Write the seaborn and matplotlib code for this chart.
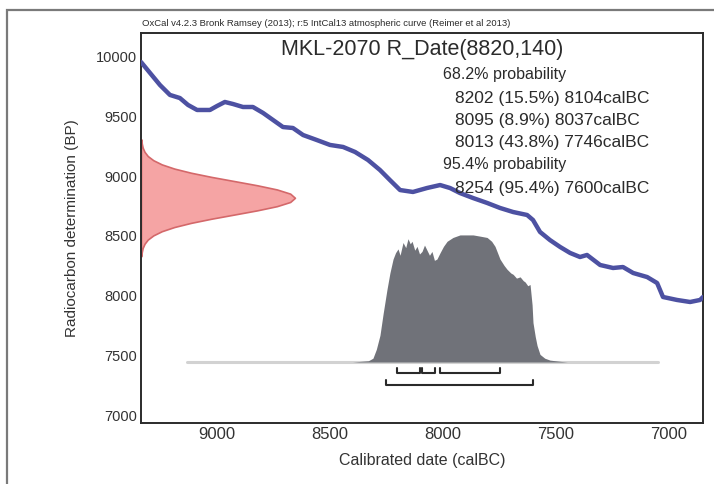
import numpy as np
import pandas as pd
import matplotlib
matplotlib.use("Agg")
import matplotlib.pyplot as plt
import seaborn as sns
from matplotlib.ticker import MultipleLocator
from matplotlib.patches import Rectangle

# ---------------------------
# data
# ---------------------------
# IntCal13 curve (cal BC vs BP)
curve_cal = [9336, 9296, 9252, 9208, 9164, 9128, 9088, 9031, 9000, 8965, 8929, 8885,
             8841, 8796, 8752, 8708, 8664, 8619, 8558, 8500, 8442, 8389, 8332, 8279,
             8235, 8190, 8133, 8071, 8013, 7969, 7925, 7867, 7805, 7748, 7690, 7628,
             7602, 7571, 7527, 7482, 7438, 7394, 7363, 7305, 7248, 7204, 7159, 7097,
             7053, 7027, 6965, 6907, 6863, 6850]
curve_bp = [9958, 9866, 9765, 9682, 9656, 9598, 9556, 9556, 9589, 9623, 9606, 9581,
            9581, 9531, 9472, 9413, 9405, 9346, 9304, 9263, 9246, 9204, 9137, 9053,
            8969, 8885, 8869, 8902, 8927, 8902, 8860, 8818, 8777, 8735, 8701, 8676,
            8634, 8534, 8466, 8408, 8358, 8324, 8341, 8257, 8232, 8240, 8190, 8156,
            8106, 7989, 7964, 7947, 7964, 7989]

# R_Date(8820,140) on the y axis (relative height)
rdate_bp = [8330, 8365, 8400, 8435, 8470, 8505, 8540, 8575, 8610, 8645, 8680, 8715,
            8750, 8785, 8820, 8855, 8890, 8925, 8960, 8995, 9030, 9065, 9100, 9135,
            9170, 9205, 9240, 9275, 9310]
rdate_h = [0.002, 0.005, 0.011, 0.023, 0.044, 0.080, 0.135, 0.216, 0.325, 0.458,
           0.607, 0.755, 0.883, 0.969, 1.0, 0.969, 0.883, 0.755, 0.607, 0.458,
           0.325, 0.216, 0.135, 0.080, 0.044, 0.023, 0.011, 0.005, 0.002]

# calibrated distribution (relative probability)
post_cal = [8400, 8330, 8310, 8295, 8279, 8265, 8248, 8235, 8221, 8210, 8199, 8190,
            8177, 8165, 8155, 8145, 8137, 8125, 8115, 8104, 8093, 8082, 8071, 8060,
            8049, 8038, 8027, 8013, 7998, 7982, 7956, 7925, 7900, 7867, 7835, 7805,
            7785, 7770, 7748, 7730, 7717, 7700, 7690, 7675, 7659, 7645, 7637, 7625,
            7615, 7606, 7602, 7592, 7584, 7571, 7550, 7527, 7480, 7450]
post_p = [0, 0.01, 0.03, 0.10, 0.21, 0.38, 0.57, 0.70, 0.81, 0.86, 0.89, 0.84,
          0.94, 0.90, 0.97, 0.93, 0.95, 0.88, 0.91, 0.85, 0.87, 0.92, 0.88, 0.84,
          0.87, 0.80, 0.81, 0.86, 0.91, 0.95, 0.98, 1.0, 1.0, 1.0, 0.99, 0.98,
          0.95, 0.91, 0.81, 0.76, 0.73, 0.70, 0.69, 0.66, 0.67, 0.64, 0.63, 0.60,
          0.61, 0.45, 0.31, 0.20, 0.13, 0.06, 0.03, 0.015, 0.005, 0]

# probability ranges
ranges_68 = [(8202, 8104), (8095, 8037), (8013, 7746)]
ranges_95 = [(8254, 7600)]
pct_68 = [15.5, 8.9, 43.8]
pct_95 = [95.4]

xlim = (9336, 6850)
ylim = (6933, 10201)

# ---------------------------
# plot
# ---------------------------
sns.set_style("white")
plt.rcParams['font.family'] = ['Liberation Sans', 'DejaVu Sans']

fig = plt.figure(figsize=(7.14, 4.84), dpi=100)
ax = fig.add_axes([141/714, 1 - 423/484, 562/714, 390/484])

# outer frame
fig.patches.append(Rectangle((7/714, -0.1), 1.2, 1 - 10/484 + 0.1, transform=fig.transFigure,
                             fill=False, edgecolor='#7a7a7a', lw=1.6))

# calibrated distribution
base_bp = 7444
post_scale = 1065
ax.plot([9133, 7049], [base_bp, base_bp], color='#d2d2d2', lw=2.2, zorder=1)
ax.fill_between(post_cal, base_bp, base_bp + np.array(post_p) * post_scale,
                color='#707279', lw=0, zorder=2)

# R_Date on y axis
r_scale = 681
ax.fill_betweenx(rdate_bp, xlim[0], xlim[0] - np.array(rdate_h) * r_scale,
                 facecolor='#f5a4a4', edgecolor='#d4686a', lw=1.2, zorder=2)

# calibration curve
df = pd.DataFrame({'cal': curve_cal, 'bp': curve_bp})
sns.lineplot(data=df, x='cal', y='bp', ax=ax, color='#4d51a2', lw=3.2,
             sort=False, estimator=None, zorder=3)

# range brackets
def bracket(lo, hi, y, h=40):
    ax.plot([lo, lo, hi, hi], [y + h, y, y, y + h], color='#2a2a2a', lw=1.5, zorder=4)

for lo, hi in ranges_68:
    bracket(lo, hi, 7352)
for lo, hi in ranges_95:
    bracket(lo, hi, 7251)

ax.set_xlim(*xlim)
ax.set_ylim(*ylim)
ax.xaxis.set_major_locator(MultipleLocator(500))
ax.xaxis.set_minor_locator(MultipleLocator(50))
ax.yaxis.set_major_locator(MultipleLocator(500))
ax.yaxis.set_minor_locator(MultipleLocator(50))
ax.tick_params(which='both', direction='in', top=False, right=False, colors='#333333')
ax.tick_params(which='major', length=7, width=1.1)
ax.tick_params(which='minor', length=3.5, width=0.8)
ax.tick_params(axis='x', labelsize=12, pad=3)
ax.tick_params(axis='y', labelsize=10.5, pad=3)
for s in ax.spines.values():
    s.set_color('#2b2b2b')
    s.set_linewidth(1.4)

ax.set_xlabel("Calibrated date (calBC)", fontsize=11.5, color='#333333', labelpad=8)
ax.set_ylabel("Radiocarbon determination (BP)", fontsize=11, color='#333333', labelpad=12)

# texts
def ftext(x, y, s, **kw):
    fig.text(x / 714, 1 - y / 484, s, va='center', color='#2b2b2b', **kw)

ftext(142, 23, "OxCal v4.2.3 Bronk Ramsey (2013); r:5 IntCal13 atmospheric curve (Reimer et al 2013)",
      fontsize=6.8, ha='left')
ftext(422, 49, "MKL-2070 R_Date(8820,140)", fontsize=15.5, ha='center')
ftext(443, 75, "68.2% probability", fontsize=11.5, ha='left')
for i, ((lo, hi), p) in enumerate(zip(ranges_68, pct_68)):
    ftext(455, 98 + 22 * i, f"{lo} ({p}%) {hi}calBC", fontsize=12.5, ha='left')
ftext(443, 164, "95.4% probability", fontsize=11.5, ha='left')
for (lo, hi), p in zip(ranges_95, pct_95):
    ftext(455, 188, f"{lo} ({p}%) {hi}calBC", fontsize=12.5, ha='left')

plt.savefig("out.png", dpi=100)
